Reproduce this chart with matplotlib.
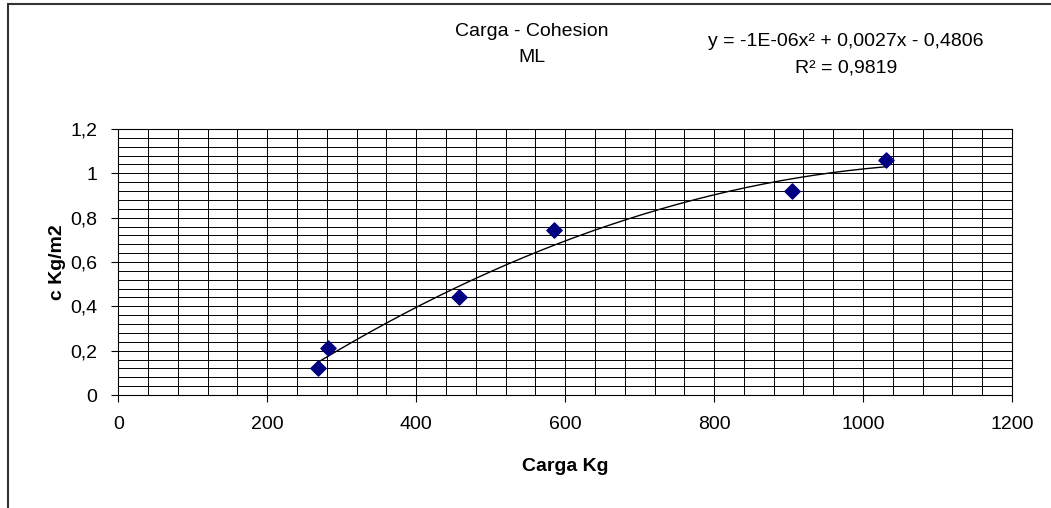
import matplotlib
matplotlib.use("Agg")
import matplotlib.pyplot as plt
from matplotlib.ticker import MultipleLocator, FuncFormatter
import numpy as np

carga = [268, 281, 458, 585, 905, 1031]
cohesion = [0.12, 0.21, 0.44, 0.745, 0.92, 1.06]

plt.rcParams['font.family'] = ['Liberation Sans', 'DejaVu Sans']

fig = plt.figure(figsize=(10.51, 5.08), dpi=100)
ax = fig.add_axes([0.1126, 0.2224, 0.9629 - 0.1126, 0.746 - 0.2224])

# chart area border (only top and left show)
fig.add_artist(plt.Rectangle((8 / 1051, -0.1), 1.2, (508 - 4) / 508 + 0.1,
                             transform=fig.transFigure, fill=False,
                             edgecolor='#333333', lw=1.5))

ax.scatter(carga, cohesion, marker='D', s=60, color='#000080', zorder=3)

# polynomial trendline, order 2
coef = np.polyfit(carga, cohesion, 2)
xs = np.linspace(min(carga), max(carga), 200)
ax.plot(xs, np.polyval(coef, xs), color='black', lw=1, zorder=2)

ax.set_xlim(0, 1200)
ax.set_ylim(0, 1.2)
ax.xaxis.set_major_locator(MultipleLocator(200))
ax.xaxis.set_minor_locator(MultipleLocator(40))
ax.yaxis.set_major_locator(MultipleLocator(0.2))
ax.yaxis.set_minor_locator(MultipleLocator(0.04))
ax.yaxis.set_major_formatter(FuncFormatter(lambda v, p: ('%g' % round(v, 2)).replace('.', ',')))
ax.grid(which='both', color='black', lw=0.7)
ax.set_axisbelow(True)
ax.tick_params(which='major', direction='out', length=5, labelsize=14, pad=10)
ax.tick_params(which='minor', length=0)
for s in ax.spines.values():
    s.set_color('black')
    s.set_linewidth(0.8)

ax.set_xlabel('Carga Kg', fontsize=14, fontweight='bold', labelpad=18)
ax.set_ylabel('c Kg/m2', fontsize=14, fontweight='bold', labelpad=3)

fig.text(532 / 1051, 1 - 32 / 508, 'Carga - Cohesion', ha='center', va='center', fontsize=14)
fig.text(532 / 1051, 1 - 58 / 508, 'ML', ha='center', va='center', fontsize=14)
fig.text(846 / 1051, 1 - 42 / 508, 'y = -1E-06x² + 0,0027x - 0,4806', ha='center', va='center', fontsize=14)
fig.text(846 / 1051, 1 - 68 / 508, 'R² = 0,9819', ha='center', va='center', fontsize=14)

fig.savefig('out.png', dpi=100)
